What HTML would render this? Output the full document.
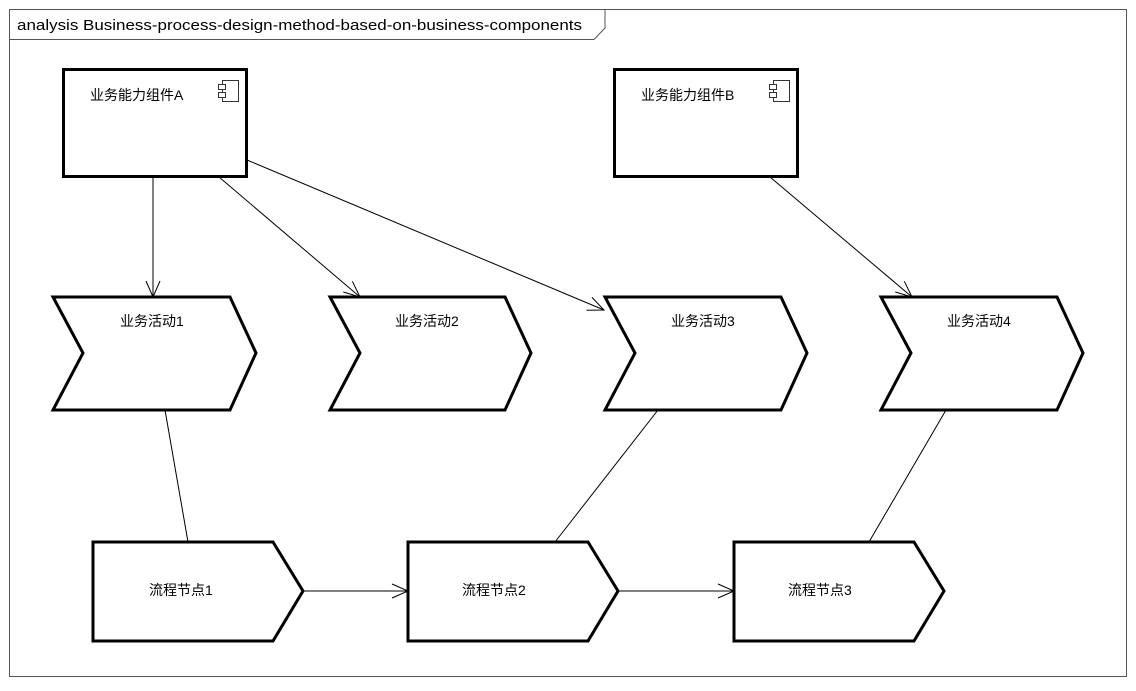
<!DOCTYPE html>
<html><head><meta charset="utf-8"><style>
body{margin:0;background:#fff}
svg text{font-family:"Liberation Sans","Noto Sans CJK SC",sans-serif;font-size:14px;fill:#000}
</style></head><body>
<svg width="1136" height="686" viewBox="0 0 1136 686" xmlns="http://www.w3.org/2000/svg">
<defs><marker id="a" markerWidth="20" markerHeight="20" refX="17" refY="10" orient="auto" markerUnits="userSpaceOnUse"><path d="M1,3 L17,10 L1,17" fill="none" stroke="#000" stroke-width="1"/></marker></defs>
<rect x="9.5" y="9.5" width="1117" height="667" fill="#fff" stroke="#555" stroke-width="1"/>
<path d="M9.5,39.5 H594 L605,28 V9.5" fill="none" stroke="#555"/>
<text x="17" y="30" style="font-size:15px" textLength="565" lengthAdjust="spacingAndGlyphs">analysis Business-process-design-method-based-on-business-components</text>
<g stroke="#000" stroke-width="1" fill="none">
<line x1="153" y1="177" x2="153" y2="297" marker-end="url(#a)"/>
<line x1="219" y1="177" x2="360" y2="297" marker-end="url(#a)"/>
<line x1="247" y1="160" x2="604" y2="310" marker-end="url(#a)"/>
<line x1="770" y1="177" x2="912" y2="297" marker-end="url(#a)"/>
<line x1="165" y1="410" x2="188" y2="542"/>
<line x1="658" y1="410" x2="555" y2="542"/>
<line x1="946" y1="410" x2="869" y2="542"/>
<line x1="303" y1="591" x2="408" y2="591" marker-end="url(#a)"/>
<line x1="618" y1="591" x2="734" y2="591" marker-end="url(#a)"/>
</g>
<g stroke="#000" stroke-width="3" fill="#fff">
<rect x="63.5" y="69.5" width="183" height="107"/>
<rect x="614.5" y="69.5" width="183" height="107"/>
<path d="M53,297 H230 L256,353 L230,410 H53 L83,353 Z"/>
<path d="M330,297 H505 L531,353 L505,410 H330 L360,353 Z"/>
<path d="M605,297 H781 L807,353 L781,410 H605 L635,353 Z"/>
<path d="M881,297 H1057 L1083,353 L1057,410 H881 L911,353 Z"/>
<path d="M93,542 H273 L303,591 L273,641 H93 Z"/>
<path d="M408,542 H588 L618,591 L588,641 H408 Z"/>
<path d="M734,542 H914 L944,591 L914,641 H734 Z"/>
</g>
<g stroke="#333" stroke-width="1" fill="#fff">
<rect x="222.5" y="80.5" width="16" height="21"/><rect x="218.5" y="84.5" width="7" height="5"/><rect x="218.5" y="92.5" width="7" height="5"/>
<rect x="773.5" y="80.5" width="16" height="21"/><rect x="769.5" y="84.5" width="7" height="5"/><rect x="769.5" y="92.5" width="7" height="5"/>
</g>
<text x="90" y="100">业务能力组件A</text>
<text x="641" y="100">业务能力组件B</text>
<text x="120" y="326">业务活动1</text>
<text x="395" y="326">业务活动2</text>
<text x="671" y="326">业务活动3</text>
<text x="947" y="326">业务活动4</text>
<text x="149" y="595">流程节点1</text>
<text x="462" y="595">流程节点2</text>
<text x="788" y="595">流程节点3</text>
</svg>
</body></html>
